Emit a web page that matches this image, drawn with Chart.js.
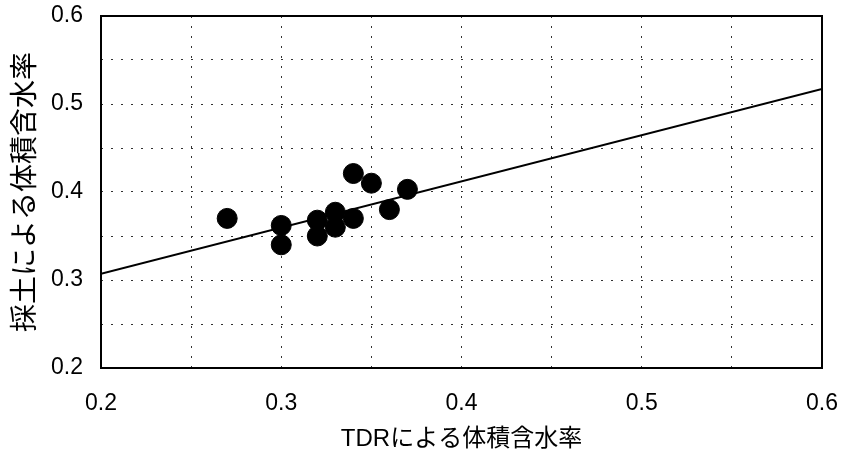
<!DOCTYPE html>
<html>
<head>
<meta charset="utf-8">
<script src="https://cdn.jsdelivr.net/npm/chart.js@4/dist/chart.umd.min.js"></script>
<style>
  html, body { margin: 0; padding: 0; background: #fff; }
  #wrap { width: 846px; height: 456px; }
</style>
</head>
<body>
<div id="wrap"><canvas id="cnv"></canvas></div>
<script>
const tdrValues = [0.27, 0.30, 0.30, 0.32, 0.32, 0.33, 0.33, 0.34, 0.34, 0.35, 0.36, 0.37];
const sampleValues = [0.370, 0.362, 0.340, 0.368, 0.350, 0.377, 0.360, 0.370, 0.421, 0.410, 0.380, 0.403];
// regression line end points
const fitX = [0.2, 0.6];
const fitY = [0.307, 0.517];

const xTitle = 'TDRによる体積含水率';
const yTitle = '採土による体積含水率';
const fontFamily = "'Liberation Sans', 'Noto Sans CJK JP', sans-serif";

const points = tdrValues.map((x, i) => ({x: x, y: sampleValues[i]}));
const fitLine = fitX.map((x, i) => ({x: x, y: fitY[i]}));

function tickLabel(v) {
  const hundredths = Math.round(v * 100);
  return hundredths % 10 === 0 ? (hundredths / 100).toFixed(1) : '';
}

// draw the closed black frame round the plot area
const framePlugin = {
  id: 'frame',
  afterDraw(chart) {
    const a = chart.chartArea;
    const ctx = chart.ctx;
    ctx.save();
    ctx.strokeStyle = '#000';
    ctx.lineWidth = 2;
    ctx.strokeRect(a.left, a.top, a.right - a.left, a.bottom - a.top);
    ctx.restore();
  }
};

const gridOpts = {
  color: '#333',
  lineWidth: 1,
  drawTicks: false
};

new Chart(document.getElementById('cnv').getContext('2d'), {
  type: 'scatter',
  data: {
    datasets: [
      {
        data: points,
        backgroundColor: '#000',
        borderColor: '#000',
        pointRadius: 10,
        pointHoverRadius: 10
      },
      {
        type: 'line',
        data: fitLine,
        borderColor: '#000',
        borderWidth: 2,
        pointRadius: 0,
        fill: false
      }
    ]
  },
  plugins: [framePlugin],
  options: {
    responsive: true,
    maintainAspectRatio: false,
    animation: false,
    layout: {
      padding: {top: 16, right: 24, left: 0, bottom: 0}
    },
    plugins: {
      legend: {display: false},
      tooltip: {enabled: false}
    },
    scales: {
      x: {
        type: 'linear',
        min: 0.2,
        max: 0.6,
        afterFit(scale) {
          scale.height = 88;
          scale.paddingLeft = 0;
          scale.paddingRight = 0;
        },
        grid: gridOpts,
        border: {display: false, dash: [2, 8]},
        ticks: {
          stepSize: 0.05,
          autoSkip: false,
          maxRotation: 0,
          padding: 22,
          color: '#000',
          font: {family: fontFamily, size: 23},
          callback: tickLabel
        },
        title: {
          display: true,
          text: xTitle,
          color: '#000',
          font: {family: fontFamily, size: 24},
          padding: {top: 0, bottom: 2}
        }
      },
      y: {
        type: 'linear',
        min: 0.2,
        max: 0.6,
        afterFit(scale) {
          scale.width = 101;
          scale.paddingTop = 0;
          scale.paddingBottom = 0;
        },
        grid: gridOpts,
        border: {display: false, dash: [2, 8]},
        ticks: {
          stepSize: 0.05,
          autoSkip: false,
          padding: 18,
          color: '#000',
          font: {family: fontFamily, size: 23},
          callback: tickLabel
        },
        title: {
          display: true,
          text: yTitle,
          color: '#000',
          font: {family: fontFamily, size: 28},
          padding: {top: 9, bottom: 0}
        }
      }
    }
  }
});
</script>
</body>
</html>
